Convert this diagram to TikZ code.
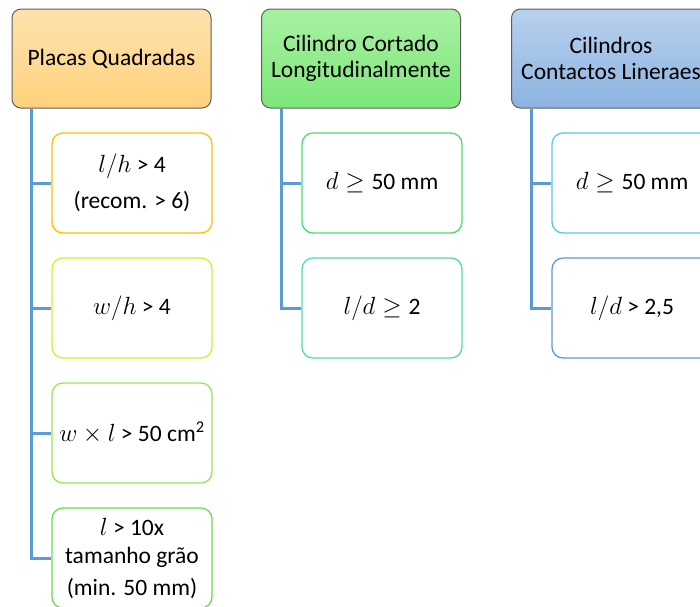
\documentclass[tikz,border=0pt]{standalone}
\usepackage{fontspec}
\setmainfont{Carlito}
\usepackage{amsmath}
\usepackage{amssymb}
\usepackage{tikz}
\definecolor{linkblue}{HTML}{5B9BD5}
\definecolor{headgray}{HTML}{5E5E5E}
\definecolor{orangetop}{HTML}{FDE2AE}
\definecolor{orangebot}{HTML}{FFD27C}
\definecolor{greentop}{HTML}{A8F1A2}
\definecolor{greenbot}{HTML}{7DE779}
\definecolor{bluetop}{HTML}{B8D1ED}
\definecolor{bluebot}{HTML}{8CB3E1}
\definecolor{edgeA}{HTML}{FFC000}
\definecolor{edgeB}{HTML}{D6F02A}
\definecolor{edgeC}{HTML}{9BE550}
\definecolor{edgeD}{HTML}{6CDC4A}
\definecolor{edgeE}{HTML}{4CDC6E}
\definecolor{edgeF}{HTML}{4FDDB0}
\definecolor{edgeG}{HTML}{52CDDD}
\tikzset{
  header/.style={draw=headgray,line width=1pt,rounded corners=9pt,
    minimum width=199pt,minimum height=99pt,align=center,
    font=\fontsize{23.5}{25.5}\selectfont,inner sep=0pt},
  leaf/.style={draw=#1,fill=white,line width=1.3pt,rounded corners=11pt,
    minimum width=160pt,minimum height=100pt,align=center,
    font=\fontsize{23.5}{28}\selectfont,inner sep=0pt},
  conn/.style={linkblue,line width=3pt}
}
\begin{document}
\begin{tikzpicture}[x=1pt,y=-1pt]
                \useasboundingbox (0,0) rectangle (700,606);
                \clip (0,0) rectangle (700,606);
                %Headers
                \node[header,top color=orangetop,bottom color=orangebot] (pq) at (111.5,58.5) {Placas Quadradas};
                \node[header,top color=greentop,bottom color=greenbot] (ccl) at (361,58.5) {Cilindro Cortado\\Longitudinalmente};
                \node[header,top color=bluetop,bottom color=bluebot] (ccn) at (611,58.5) {Cilindros\\Contactos Lineraes};
                %Placas Quadradas
                \node[leaf=edgeA] (pq1) at (132,183) {$l/h$ > 4\\[8pt](recom. > 6)};
                \node[leaf=edgeB] (pq2) at (132,308) {$w/h$ > 4};
                \node[leaf=edgeC] (pq3) at (132,433) {$w\times l$ > 50 cm\textsuperscript{2}};
                \node[leaf=edgeD] (pq4) at (132,558) {$l$ > 10x\\tamanho grão\\[4pt](min. 50 mm)};
                %Cilindro Cortado
                \node[leaf=edgeE] (cc1) at (382,183) {$d \geq{}$50 mm};
                \node[leaf=edgeF] (cc2) at (382,308) {$l/d \geq{}$2};
                %Cilindros Contactos
                \node[leaf=edgeG] (cn1) at (632,183) {$d \geq{}$50 mm};
                \node[leaf=linkblue] (cn2) at (632,308) {$l/d$ > 2,5};
                %Links
                \foreach \k in {1,...,4}
                  \draw[conn] ([xshift=20pt]pq.south west) |- (pq\k.west);
                \foreach \k in {1,2}{
                  \draw[conn] ([xshift=20pt]ccl.south west) |- (cc\k.west);
                  \draw[conn] ([xshift=20pt]ccn.south west) |- (cn\k.west);
                }
            \end{tikzpicture}
\end{document}
